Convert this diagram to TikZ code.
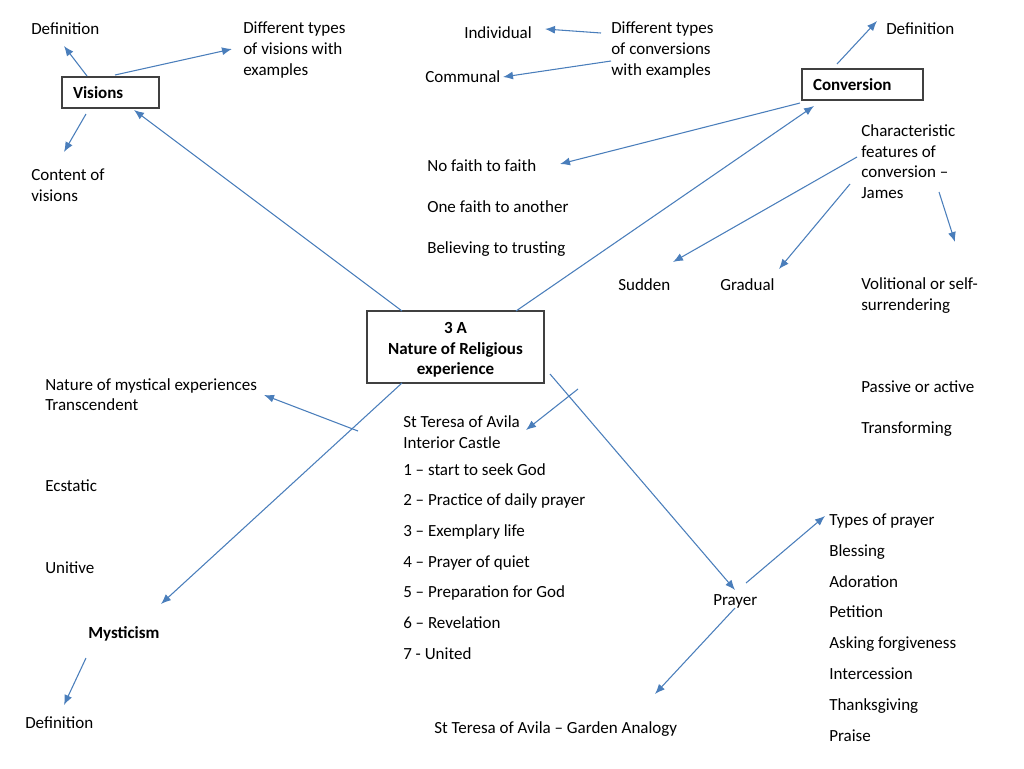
\documentclass[tikz,border=0pt]{standalone}
\usepackage{fontspec}
\setmainfont{Carlito}
\usetikzlibrary{arrows.meta}
\definecolor{arr}{RGB}{74,126,187}
\definecolor{boxline}{RGB}{64,64,64}
\begin{document}
\begin{tikzpicture}[x=0.75pt,y=-0.75pt,
  txt/.style={anchor=west,inner sep=0pt,align=left,yshift=-1.1pt,font=\fontsize{12.75pt}{15.4pt}\selectfont},
  one/.style={anchor=west,inner sep=0pt,align=left,yshift=-0.35pt,font=\fontsize{12.75pt}{15.4pt}\selectfont,text height=8.9pt,text depth=0pt},
  btxt/.style={one,font=\fontsize{12.75pt}{15.4pt}\selectfont\bfseries},
  sidebox/.style={draw=boxline,line width=0.9pt,inner xsep=8.25pt,inner ysep=0pt,minimum height=23.25pt,align=left,font=\fontsize{12.75pt}{15.4pt}\selectfont\bfseries},
  arrow/.style={draw=arr,line width=0.8pt,-{Latex[length=7.5pt,width=6pt]}}]
\useasboundingbox (0,0) rectangle (1024,768);
% boxes
\node[sidebox,text width=56.25pt] (visions) at (110.5,92.5) {Visions};
\node[sidebox,text width=74.25pt] (conv) at (862.5,84.5) {\rule{0pt}{9.5pt}Conversion};
\node[draw=boxline,line width=0.9pt,minimum width=132.75pt,minimum height=54pt,align=center,inner sep=0pt,font=\fontsize{12.75pt}{15.4pt}\selectfont\bfseries] (center) at (455.5,347) {\rule{0pt}{12.9pt}3 A\\Nature of Religious\\experience};
% texts
\node[one] (vdef) at (31,28) {Definition};
\node[txt] (vtypes) at (243,48.5) {Different types\\of visions with\\examples};
\node[txt] (vcont) at (31,184) {Content of\\visions};
\node[one] (indiv) at (464,32) {Individual};
\node[one] (commun) at (425,76) {Communal};
\node[txt] (ctypes) at (611,48.5) {Different types\\of conversions\\with examples};
\node[one] (cdef) at (886,28) {Definition};
\node[txt] (charf) at (861,160) {Characteristic\\features of\\conversion --\\James};
\node[one] (nofaith) at (427,165) {No faith to faith};
\node[one] (onefaith) at (427,206) {One faith to another};
\node[one] (believ) at (427,247) {Believing to trusting};
\node[one] (sudden) at (618,284) {Sudden};
\node[one] (gradual) at (720,284) {Gradual};
\node[txt] (volit) at (861,294) {Volitional or self-\\surrendering};
\node[one] (passive) at (861,386) {Passive or active};
\node[one] (transf) at (861,427) {Transforming};
\node[txt] (natmyst) at (45,393) {Nature of mystical experiences\\Transcendent};
\node[txt] (teresa) at (403,430.5) {St Teresa of Avila\\Interior Castle};
\node[one] (s1) at (403,469) {1 -- start to seek God};
\node[one] (s2) at (403,499.5) {2 -- Practice of daily prayer};
\node[one] (s3) at (403,530) {3 -- Exemplary life};
\node[one] (s4) at (403,561) {4 -- Prayer of quiet};
\node[one] (s5) at (403,591.5) {5 -- Preparation for God};
\node[one] (s6) at (403,622) {6 -- Revelation};
\node[one] (s7) at (403,653) {7 - United};
\node[one] (ecst) at (45,485) {Ecstatic};
\node[one] (unit) at (45,567) {Unitive};
\node[btxt] (myst) at (88,632) {Mysticism};
\node[one] (mdef) at (25,722) {Definition};
\node[one] (garden) at (434,727) {St Teresa of Avila -- Garden Analogy};
\node[one] (prayer) at (713,599) {Prayer};
\node[one] (p0) at (829,519) {Types of prayer};
\node[one] (p1) at (829,550) {Blessing};
\node[one] (p2) at (829,581) {Adoration};
\node[one] (p3) at (829,611.5) {Petition};
\node[one] (p4) at (829,642) {Asking forgiveness};
\node[one] (p5) at (829,673) {Intercession};
\node[one] (p6) at (829,704) {Thanksgiving};
\node[one] (p7) at (829,735) {Praise};
% connector end points
\coordinate (a1s) at (87,76);   \coordinate (a1e) at (64,46);
\coordinate (a2s) at (115,75);  \coordinate (a2e) at (232,49);
\coordinate (a3s) at (86,114);  \coordinate (a3e) at (64,152);
\coordinate (a4s) at (402,311); \coordinate (a4e) at (134,110);
\coordinate (a5s) at (516,311); \coordinate (a5e) at (814,106);
\coordinate (a6s) at (601,33);  \coordinate (a6e) at (545,29);
\coordinate (a7s) at (611,61);  \coordinate (a7e) at (503,77);
\coordinate (a8s) at (837,64);  \coordinate (a8e) at (877,21);
\coordinate (a9s) at (800,103); \coordinate (a9e) at (560,164);
\coordinate (a10s) at (857,157); \coordinate (a10e) at (673,262);
\coordinate (a11s) at (850,184); \coordinate (a11e) at (779,269);
\coordinate (a12s) at (939,192); \coordinate (a12e) at (955,242);
\coordinate (a13s) at (402,383); \coordinate (a13e) at (161,604);
\coordinate (a14s) at (358,431); \coordinate (a14e) at (264,395);
\coordinate (a15s) at (578,389); \coordinate (a15e) at (526,430);
\coordinate (a16s) at (550,374); \coordinate (a16e) at (735,590);
\coordinate (a17s) at (746,583); \coordinate (a17e) at (825,516);
\coordinate (a18s) at (735,608); \coordinate (a18e) at (655,694);
\coordinate (a19s) at (86,658); \coordinate (a19e) at (64,705);
\foreach \i in {1,...,19} { \draw[arrow] (a\i s) -- (a\i e); }
\end{tikzpicture}
\end{document}
